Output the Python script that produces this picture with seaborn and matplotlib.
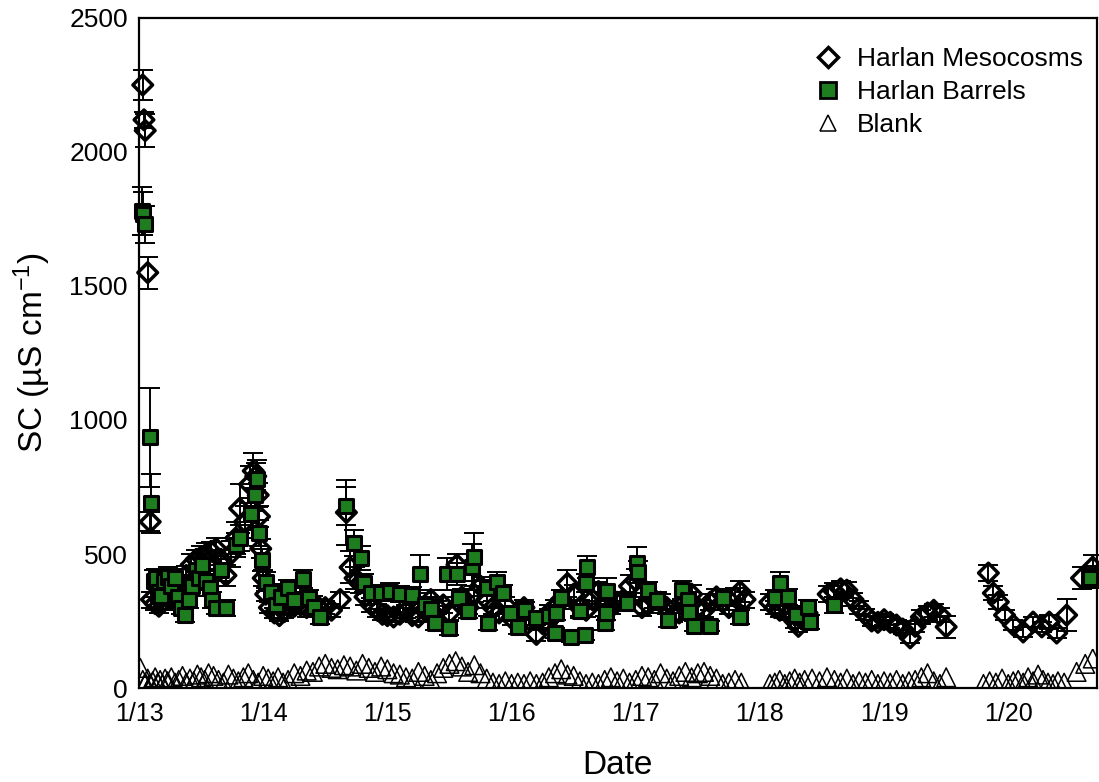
import numpy as np
import matplotlib
matplotlib.use("Agg")
import matplotlib.pyplot as plt
from matplotlib.lines import Line2D
import seaborn as sns

# Harlan Mesocosms (day of January, SC, error)
meso_day = [13.03, 13.04, 13.05, 13.07, 13.09, 13.10, 13.13, 13.16, 13.19, 13.22,
            13.26, 13.30, 13.34, 13.38, 13.42, 13.46, 13.50, 13.54, 13.58, 13.62,
            13.66, 13.70, 13.74, 13.78, 13.81, 13.85, 13.89, 13.92, 13.94, 13.96,
            13.97, 13.98, 14.00, 14.02, 14.05, 14.09, 14.13, 14.17, 14.21, 14.25,
            14.30, 14.35, 14.40, 14.45, 14.50, 14.55, 14.62, 14.67, 14.70, 14.74,
            14.78, 14.82, 14.87, 14.92, 14.96, 15.00, 15.05, 15.10, 15.15, 15.20,
            15.25, 15.30, 15.35, 15.40, 15.45, 15.50, 15.56, 15.60, 15.65, 15.70,
            15.75, 15.80, 15.85, 15.90, 15.95, 16.00, 16.05, 16.10, 16.15, 16.20,
            16.25, 16.30, 16.35, 16.40, 16.45, 16.50, 16.55, 16.60, 16.65, 16.70,
            16.75, 16.80, 16.85, 16.90, 16.95, 17.00, 17.05, 17.10, 17.15, 17.20,
            17.25, 17.30, 17.35, 17.40, 17.45, 17.50, 17.55, 17.60, 17.65, 17.70,
            17.75, 17.80, 17.84, 17.88, 18.08, 18.12, 18.16, 18.20, 18.24, 18.28,
            18.31, 18.35, 18.38, 18.55, 18.60, 18.65, 18.70, 18.75, 18.80, 18.85,
            18.90, 18.95, 19.00, 19.05, 19.10, 19.15, 19.21, 19.25, 19.30, 19.35,
            19.40, 19.45, 19.50, 19.84, 19.88, 19.92, 19.97, 20.04, 20.12, 20.20,
            20.27, 20.33, 20.39, 20.47, 20.59, 20.68, 20.71]
meso_sc = [2250, 2120, 2080, 1550, 620, 330, 315, 305, 320, 340,
           330, 350, 380, 420, 460, 480, 490, 500, 510, 520,
           480, 420, 500, 560, 670, 620, 760, 810, 790, 720,
           640, 520, 410, 350, 300, 280, 270, 285, 300, 305,
           310, 300, 315, 300, 300, 290, 330, 655, 450, 410,
           390, 340, 310, 290, 275, 270, 265, 275, 285, 270,
           265, 290, 330, 300, 310, 280, 460, 340, 300, 350,
           380, 330, 300, 280, 310, 260, 280, 300, 250, 200,
           240, 280, 300, 330, 390, 350, 300, 290, 330, 360,
           320, 300, 320, 330, 380, 400, 300, 310, 330, 320,
           300, 270, 280, 320, 350, 300, 290, 320, 340, 320,
           300, 340, 360, 330, 320, 300, 290, 310, 280, 250,
           230, 260, 280, 350, 360, 370, 365, 330, 300, 275,
           250, 245, 255, 245, 235, 220, 187, 230, 265, 280,
           290, 272, 228, 429, 354, 321, 272, 235, 209, 246,
           228, 246, 205, 272, 410, 451, 414]
meso_err = [55, 30, 60, 60, 35, 30, 25, 25, 30, 30,
            25, 30, 30, 35, 40, 35, 40, 40, 35, 40,
            35, 40, 50, 60, 90, 60, 70, 65, 50, 45,
            40, 35, 30, 25, 20, 20, 20, 25, 25, 30,
            30, 35, 30, 30, 25, 25, 30, 120, 60, 40,
            35, 30, 25, 25, 20, 20, 20, 25, 25, 20,
            20, 25, 35, 25, 30, 25, 40, 30, 25, 30,
            35, 30, 25, 25, 30, 25, 25, 30, 25, 25,
            25, 30, 30, 35, 50, 35, 30, 25, 30, 35,
            30, 25, 30, 30, 40, 45, 30, 30, 30, 30,
            25, 25, 25, 30, 35, 30, 25, 30, 30, 30,
            25, 35, 40, 30, 30, 25, 25, 30, 25, 25,
            20, 25, 25, 30, 30, 30, 30, 25, 25, 20,
            20, 20, 20, 20, 20, 20, 20, 20, 25, 25,
            25, 25, 40, 30, 25, 25, 20, 20, 20, 20,
            20, 25, 20, 60, 40, 45, 40]

# Harlan Barrels
barrel_day = [13.02, 13.03, 13.05, 13.09, 13.10, 13.12, 13.14, 13.16, 13.18, 13.20,
              13.23, 13.26, 13.29, 13.31, 13.34, 13.37, 13.40, 13.43, 13.46, 13.48,
              13.51, 13.54, 13.57, 13.59, 13.62, 13.66, 13.70, 13.78, 13.81, 13.90,
              13.93, 13.95, 13.97, 13.99, 14.02, 14.06, 14.10, 14.14, 14.20, 14.25,
              14.32, 14.37, 14.41, 14.46, 14.67, 14.73, 14.79, 14.81, 14.87, 14.95,
              15.02, 15.10, 15.20, 15.26, 15.30, 15.35, 15.38, 15.48, 15.50, 15.56,
              15.58, 15.65, 15.68, 15.70, 15.80, 15.81, 15.88, 15.93, 15.99, 16.05,
              16.11, 16.20, 16.30, 16.35, 16.36, 16.40, 16.48, 16.55, 16.59, 16.60,
              16.61, 16.75, 16.76, 16.77, 16.93, 17.01, 17.02, 17.10, 17.17, 17.26,
              17.37, 17.42, 17.43, 17.47, 17.60, 17.70, 17.84, 18.12, 18.16, 18.23,
              18.29, 18.39, 18.40, 18.60, 20.66]
barrel_sc = [1780, 1770, 1730, 935, 690, 400, 410, 360, 345, 400,
             415, 380, 410, 340, 300, 272, 330, 380, 440, 410,
             460, 400, 373, 330, 300, 440, 300, 534, 560, 650,
             720, 780, 578, 478, 396, 358, 310, 340, 373, 330,
             407, 336, 302, 265, 679, 541, 485, 392, 354, 354,
             360, 350, 347, 425, 310, 295, 243, 425, 224, 425,
             336, 287, 451, 489, 373, 243, 396, 354, 280, 228,
             291, 260, 270, 205, 280, 336, 190, 287, 198, 392,
             451, 243, 280, 362, 317, 466, 433, 366, 328, 254,
             366, 328, 284, 231, 231, 336, 265, 336, 392, 340,
             272, 302, 246, 310, 410]
barrel_err = [90, 80, 70, 185, 110, 40, 35, 30, 30, 35,
              35, 30, 35, 30, 25, 25, 30, 35, 40, 35,
              40, 35, 30, 30, 25, 40, 30, 45, 50, 60,
              60, 70, 50, 40, 35, 30, 25, 30, 30, 30,
              35, 30, 25, 25, 70, 50, 45, 35, 30, 30,
              30, 30, 30, 70, 30, 25, 25, 60, 25, 40,
              30, 25, 85, 90, 30, 25, 35, 30, 25, 25,
              30, 25, 25, 20, 25, 30, 20, 25, 20, 35,
              40, 25, 25, 50, 30, 60, 40, 30, 30, 25,
              35, 30, 25, 20, 20, 30, 25, 30, 40, 30,
              25, 25, 25, 30, 35]

# Blank
blank_day = [13.01, 13.03, 13.05, 13.07, 13.09, 13.11, 13.13, 13.15, 13.17, 13.19,
             13.21, 13.23, 13.26, 13.29, 13.32, 13.35, 13.38, 13.41, 13.44, 13.47,
             13.50, 13.53, 13.56, 13.60, 13.64, 13.68, 13.72, 13.76, 13.80, 13.84,
             13.88, 13.92, 13.96, 14.00, 14.04, 14.08, 14.12, 14.16, 14.20, 14.25,
             14.30, 14.35, 14.40, 14.45, 14.50, 14.55, 14.60, 14.65, 14.70, 14.75,
             14.80, 14.85, 14.90, 14.95, 15.00, 15.05, 15.10, 15.15, 15.20, 15.25,
             15.30, 15.35, 15.40, 15.45, 15.50, 15.55, 15.60, 15.65, 15.70, 15.75,
             15.80, 15.85, 15.90, 15.95, 16.00, 16.05, 16.10, 16.15, 16.20, 16.25,
             16.30, 16.35, 16.40, 16.45, 16.50, 16.55, 16.60, 16.65, 16.70, 16.75,
             16.80, 16.85, 16.90, 16.95, 17.00, 17.05, 17.10, 17.15, 17.20, 17.25,
             17.30, 17.35, 17.40, 17.45, 17.50, 17.55, 17.60, 17.65, 17.70, 17.75,
             17.80, 17.85, 18.08, 18.12, 18.16, 18.20, 18.24, 18.28, 18.32, 18.36,
             18.42, 18.48, 18.54, 18.60, 18.65, 18.70, 18.75, 18.80, 18.85, 18.90,
             18.95, 19.00, 19.05, 19.10, 19.15, 19.20, 19.25, 19.30, 19.35, 19.40,
             19.45, 19.50, 19.80, 19.85, 19.90, 19.95, 20.00, 20.04, 20.08, 20.12,
             20.16, 20.20, 20.24, 20.28, 20.32, 20.36, 20.40, 20.45, 20.55, 20.62,
             20.68]
blank_sc = [75, 30, 20, 35, 15, 25, 40, 20, 30, 15,
            35, 25, 40, 20, 30, 45, 20, 35, 25, 50,
            40, 30, 55, 45, 30, 20, 50, 35, 25, 40,
            55, 30, 20, 45, 35, 25, 40, 20, 30, 55,
            45, 65, 60, 80, 90, 75, 70, 85, 80, 65,
            90, 75, 60, 80, 70, 55, 50, 40, 35, 60,
            45, 30, 55, 75, 90, 100, 80, 60, 85, 55,
            35, 20, 15, 25, 15, 20, 15, 25, 15, 20,
            40, 55, 70, 50, 45, 25, 15, 20, 15, 30,
            40, 25, 35, 20, 30, 45, 40, 30, 55, 35,
            25, 45, 60, 40, 55, 60, 45, 35, 15, 20,
            30, 20, 15, 20, 30, 15, 25, 35, 20, 30,
            35, 25, 40, 30, 20, 35, 15, 25, 20, 30,
            15, 25, 20, 30, 15, 25, 30, 40, 55, 25,
            15, 40, 15, 25, 20, 35, 15, 25, 30, 20,
            40, 25, 50, 30, 20, 15, 25, 20, 60, 90,
            110]

date_ticks = [13, 14, 15, 16, 17, 18, 19, 20]
date_labels = ["1/13", "1/14", "1/15", "1/16", "1/17", "1/18", "1/19", "1/20"]
sc_ticks = [0, 500, 1000, 1500, 2000, 2500]

sns.set_style("white")
plt.rcParams['font.family'] = ['Liberation Sans', 'DejaVu Sans']
plt.rcParams['mathtext.default'] = 'regular'
plt.rcParams['text.color'] = 'black'
plt.rcParams['axes.labelcolor'] = 'black'
plt.rcParams['xtick.color'] = 'black'
plt.rcParams['ytick.color'] = 'black'

green = '#1e7d1e'

fig = plt.figure(figsize=(10.99, 7.82), dpi=100)
ax = fig.add_axes([0.1265, 0.1202, 0.8715, 0.8568])

# error bars first so markers sit on top
ax.errorbar(meso_day, meso_sc, yerr=meso_err, fmt='none', ecolor='black',
            elinewidth=1.4, capsize=7, capthick=1.4, zorder=2, clip_on=False)
ax.errorbar(barrel_day, barrel_sc, yerr=barrel_err, fmt='none', ecolor='black',
            elinewidth=1.4, capsize=7, capthick=1.4, zorder=2, clip_on=False)

sns.scatterplot(x=meso_day, y=meso_sc, marker='D', s=100, color='none',
                edgecolor='black', linewidth=2.5, ax=ax, zorder=3, clip_on=False)
sns.scatterplot(x=barrel_day, y=barrel_sc, marker='s', s=110, color=green,
                edgecolor='black', linewidth=2.2, ax=ax, zorder=4, clip_on=False)
sns.scatterplot(x=blank_day, y=blank_sc, marker='^', s=180, color='none',
                edgecolor='black', linewidth=1.1, ax=ax, zorder=5)

ax.set_xlim(13.0, 20.713)
ax.set_ylim(0, 2500)
ax.set_xticks(date_ticks)
ax.set_xticklabels(date_labels)
ax.set_yticks(sc_ticks)
ax.tick_params(axis='both', direction='in', length=6, width=1.3)
ax.tick_params(axis='x', pad=10, labelsize=18)
ax.tick_params(axis='y', pad=8, labelsize=19)
for sp in ax.spines.values():
    sp.set_linewidth(1.6)
    sp.set_color('black')

ax.set_xlabel('Date', fontsize=24, labelpad=17)
ax.set_ylabel('SC (µS cm$^{-1}$)', fontsize=24, labelpad=12)

handles = [
    Line2D([], [], linestyle='none', marker='D', markersize=10, markerfacecolor='white',
           markeredgecolor='black', markeredgewidth=2.5),
    Line2D([], [], linestyle='none', marker='s', markersize=11, markerfacecolor=green,
           markeredgecolor='black', markeredgewidth=2.0),
    Line2D([], [], linestyle='none', marker='^', markersize=12, markerfacecolor='white',
           markeredgecolor='black', markeredgewidth=1.1),
]
ax.legend(handles, ['Harlan Mesocosms', 'Harlan Barrels', 'Blank'],
          loc='upper left', bbox_to_anchor=(0.7416, 0.94), bbox_transform=fig.transFigure,
          frameon=False, fontsize=19, borderpad=0, borderaxespad=0,
          handlelength=1.0, handletextpad=0.6, labelspacing=0.35)

plt.savefig('out.png', dpi=100)
